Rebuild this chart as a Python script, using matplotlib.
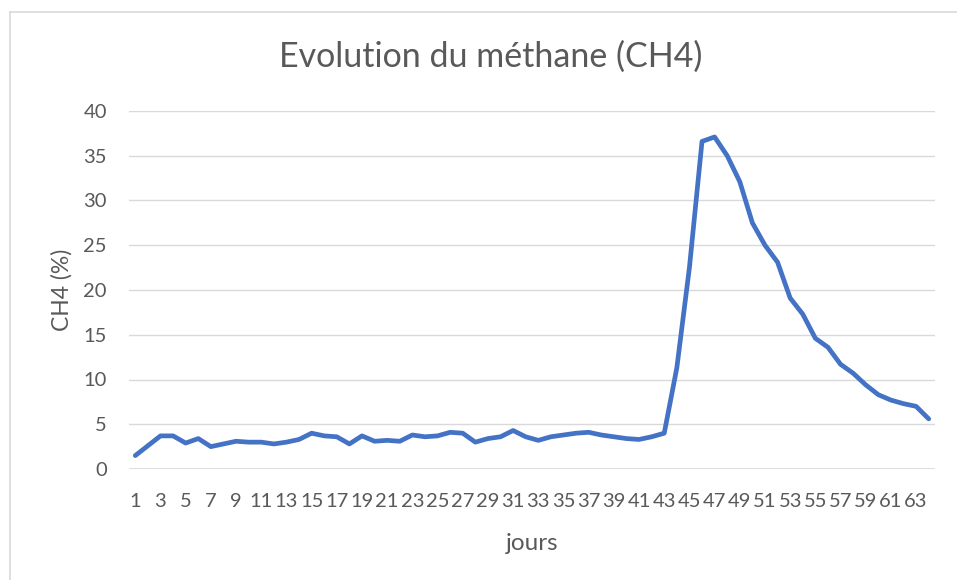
import matplotlib
matplotlib.use("Agg")
from matplotlib import pyplot as plt
from matplotlib.lines import Line2D

# jours 1..64
jours = list(range(1, 65))
ch4 = [1.5, 2.6, 3.7, 3.7, 2.9, 3.4, 2.5, 2.8, 3.1, 3.0,
       3.0, 2.8, 3.0, 3.3, 4.0, 3.7, 3.6, 2.8, 3.7, 3.1,
       3.2, 3.1, 3.8, 3.6, 3.7, 4.1, 4.0, 3.0, 3.4, 3.6,
       4.3, 3.6, 3.2, 3.6, 3.8, 4.0, 4.1, 3.8, 3.6, 3.4,
       3.3, 3.6, 4.0, 11.3, 22.5, 36.6, 37.1, 35.0, 32.1, 27.5,
       25.0, 23.1, 19.1, 17.3, 14.6, 13.6, 11.7, 10.7, 9.4, 8.3,
       7.7, 7.3, 7.0, 5.6]
x_labels = [str(j) if j % 2 == 1 else '' for j in jours]
y_ticks = [0, 5, 10, 15, 20, 25, 30, 35, 40]

grey = '#595959'
plt.rcParams['font.family'] = ['Lato', 'DejaVu Sans']

fig = plt.figure(figsize=(9.57, 5.8), dpi=100)
ax = fig.add_axes([129 / 957, 1 - 469 / 580, (935 - 129) / 957, (469 - 111) / 580])

ax.plot(jours, ch4, color='#4472C4', linewidth=3.4, solid_capstyle='round', solid_joinstyle='round', zorder=3)

ax.set_xlim(0.5, 64.5)
ax.set_ylim(0, 40)
ax.set_xticks(jours)
ax.set_xticklabels(x_labels)
ax.set_yticks(y_ticks)
ax.tick_params(axis='both', length=0, colors=grey, labelsize=14.5)
ax.tick_params(axis='x', pad=17)
ax.tick_params(axis='y', pad=16)

ax.grid(axis='y', color='#D9D9D9', linewidth=1)
for s in ax.spines.values():
    s.set_visible(False)
ax.axhline(0, color='#D9D9D9', linewidth=1.2, zorder=2)

# titres des axes
fig.text(532 / 957, 1 - 543 / 580, 'jours', color=grey, fontsize=17.5, ha='center', va='center')
fig.text(62 / 957, 1 - 290 / 580, 'CH4 (%)', color=grey, fontsize=16.5, ha='center', va='center', rotation=90)
fig.text(491 / 957, 1 - 57 / 580, 'Evolution du méthane (CH4)', color=grey,
         fontsize=24.5, ha='center', va='center')

# bordure du graphique (bords gauche et haut visibles)
fig.add_artist(Line2D([10 / 957, 10 / 957], [0, 1 - 12 / 580], transform=fig.transFigure, color='#D9D9D9', linewidth=1.2))
fig.add_artist(Line2D([10 / 957, 1], [1 - 12 / 580, 1 - 12 / 580], transform=fig.transFigure, color='#D9D9D9', linewidth=1.2))

plt.savefig('out.png', dpi=100)
